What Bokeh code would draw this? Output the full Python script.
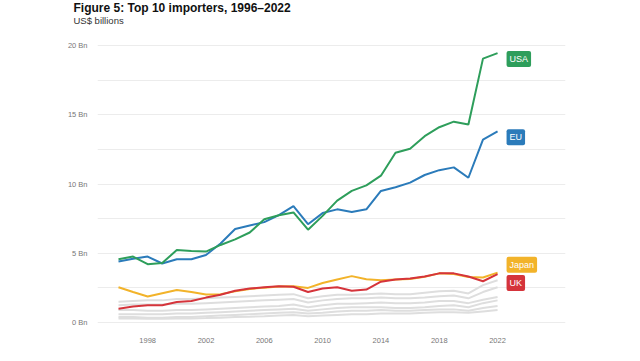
from bokeh.plotting import figure
from bokeh.models import Label, Title, FixedTicker, Range1d
from bokeh.embed import file_html
from bokeh.resources import INLINE

years = list(range(1996, 2023))

usa = [4.57, 4.76, 4.21, 4.29, 5.24, 5.17, 5.12, 5.6, 6.0, 6.5, 7.45, 7.75, 7.95, 6.7, 7.7,
       8.8, 9.5, 9.9, 10.6, 12.25, 12.55, 13.45, 14.1, 14.5, 14.3, 19.05, 19.45]
eu = [4.4, 4.6, 4.76, 4.26, 4.57, 4.57, 4.88, 5.7, 6.75, 7.0, 7.25, 7.75, 8.4, 7.1, 7.9,
      8.17, 7.98, 8.17, 9.5, 9.76, 10.1, 10.65, 11.0, 11.2, 10.45, 13.2, 13.8]
japan = [2.55, 2.2, 1.88, 2.12, 2.35, 2.2, 2.02, 2.05, 2.25, 2.42, 2.52, 2.6, 2.62, 2.5, 2.85,
         3.1, 3.35, 3.12, 3.05, 3.1, 3.15, 3.3, 3.55, 3.5, 3.28, 3.25, 3.6]
uk = [1.0, 1.15, 1.25, 1.25, 1.48, 1.55, 1.8, 2.0, 2.3, 2.45, 2.55, 2.62, 2.58, 2.2, 2.45,
      2.55, 2.3, 2.38, 2.95, 3.1, 3.18, 3.33, 3.55, 3.55, 3.32, 2.98, 3.5]

others = [
    [1.5, 1.55, 1.6, 1.6, 1.7, 1.7, 1.75, 1.8, 1.85, 1.9, 1.95, 2.0, 2.05, 1.75, 1.9,
     2.0, 2.0, 2.05, 2.1, 2.05, 2.05, 2.15, 2.25, 2.3, 2.1, 2.7, 3.05],
    [1.25, 1.3, 1.3, 1.3, 1.35, 1.35, 1.4, 1.45, 1.5, 1.55, 1.6, 1.65, 1.7, 1.45, 1.6,
     1.7, 1.75, 1.75, 1.8, 1.75, 1.75, 1.8, 1.9, 1.95, 1.75, 2.2, 2.55],
    [0.9, 0.9, 0.85, 0.85, 0.9, 0.9, 0.95, 1.0, 1.05, 1.1, 1.15, 1.2, 1.3, 1.1, 1.25,
     1.35, 1.35, 1.4, 1.45, 1.4, 1.4, 1.45, 1.55, 1.55, 1.4, 1.65, 1.85],
    [0.6, 0.6, 0.6, 0.6, 0.65, 0.65, 0.7, 0.75, 0.8, 0.85, 0.9, 0.95, 1.0, 0.85, 0.95,
     1.05, 1.1, 1.1, 1.1, 1.05, 1.05, 1.1, 1.2, 1.25, 1.1, 1.4, 1.6],
    [0.4, 0.4, 0.35, 0.35, 0.4, 0.4, 0.45, 0.5, 0.55, 0.6, 0.65, 0.7, 0.75, 0.65, 0.7,
     0.8, 0.85, 0.85, 0.9, 0.85, 0.85, 0.9, 0.95, 0.95, 0.85, 1.05, 1.2],
    [0.3, 0.3, 0.28, 0.28, 0.3, 0.3, 0.32, 0.35, 0.4, 0.42, 0.45, 0.5, 0.55, 0.45, 0.5,
     0.55, 0.6, 0.6, 0.65, 0.65, 0.65, 0.7, 0.75, 0.75, 0.7, 0.8, 0.9],
]

y_ticks = [0, 2.5, 5, 7.5, 10, 12.5, 15, 17.5, 20]
y_tick_labels = {0: "0 Bn", 2.5: "", 5: "5 Bn", 7.5: "", 10: "10 Bn", 12.5: "",
                 15: "15 Bn", 17.5: "", 20: "20 Bn"}
x_ticks = [1998, 2002, 2006, 2010, 2014, 2018, 2022]

GREEN = "#2e9e5b"
BLUE = "#2b7bba"
YELLOW = "#f2b32a"
RED = "#d5343b"
GREY = "#dedede"
FONT = "Liberation Sans"

p = figure(width=624, height=345, output_backend="svg", toolbar_location=None,
           x_range=Range1d(1994.56, 2026.66), y_range=Range1d(-0.358, 20.358),
           min_border_left=97, min_border_right=59, min_border_top=40, min_border_bottom=16)
p.outline_line_color = None
p.background_fill_color = "white"
p.border_fill_color = "white"

spacer = Title(text=" ", align="left", text_font=FONT, text_font_size="2px", standoff=10)
sub = Title(text="US$ billions", align="left", text_font=FONT, text_font_size="9.5px",
            text_font_style="normal", text_color="#333333", offset=-24, standoff=1)
ttl = Title(text="Figure 5: Top 10 importers, 1996\u20132022", align="left", text_font=FONT,
            text_font_size="12px", text_font_style="bold", text_color="#111111",
            offset=-24, standoff=-4)
p.add_layout(spacer, "above")
p.add_layout(sub, "above")
p.add_layout(ttl, "above")

p.yaxis.ticker = FixedTicker(ticks=y_ticks)
p.yaxis.major_label_overrides = y_tick_labels
p.xaxis.ticker = FixedTicker(ticks=x_ticks)
for ax in (p.xaxis, p.yaxis):
    ax.axis_line_color = None
    ax.major_tick_line_color = None
    ax.minor_tick_line_color = None
    ax.major_label_text_font = FONT
    ax.major_label_text_font_size = "7.5px"
    ax.major_label_text_color = "#777777"
p.yaxis.major_label_standoff = 4
p.xaxis.major_label_standoff = 4
p.xgrid.grid_line_color = None
p.ygrid.ticker = FixedTicker(ticks=y_ticks)
p.ygrid.grid_line_color = "#ececec"
p.ygrid.grid_line_width = 1

for s in others:
    p.line(years, s, line_color=GREY, line_width=2)
p.line(years, japan, line_color=YELLOW, line_width=2)
p.line(years, uk, line_color=RED, line_width=2)
p.line(years, eu, line_color=BLUE, line_width=2)
p.line(years, usa, line_color=GREEN, line_width=2)

for name, series, color, dy in [("USA", usa, GREEN, -6), ("EU", eu, BLUE, -6),
                                ("Japan", japan, YELLOW, 8), ("UK", uk, RED, -9)]:
    p.add_layout(Label(x=years[-1], y=series[-1], x_offset=9, y_offset=dy, text=name,
                       text_font=FONT, text_font_size="9px", text_color="white",
                       text_baseline="middle", background_fill_color=color,
                       background_fill_alpha=1.0, padding=3, border_radius=2))

open("out.html", "w").write(file_html(p, INLINE))
